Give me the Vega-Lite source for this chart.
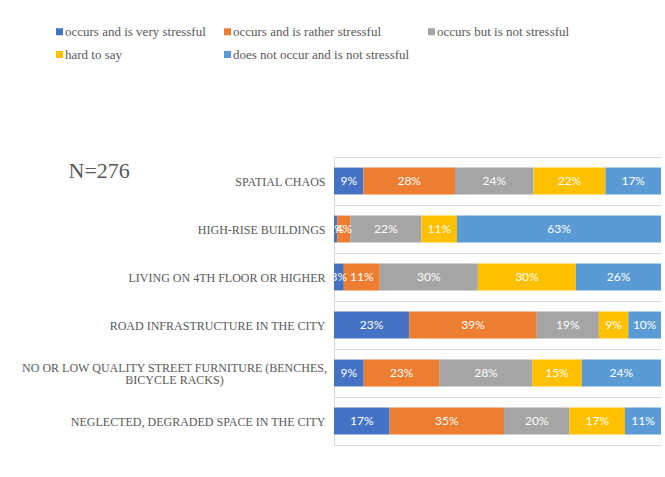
{
  "$schema": "https://vega.github.io/schema/vega-lite/v6.json",
  "width": 327,
  "height": 288,
  "autosize": {"type": "none"},
  "padding": {"left": 334, "top": 157, "right": 4, "bottom": 32},
  "background": "white",
  "data": {
    "values": [
      {"c": "SPATIAL CHAOS", "s": "occurs and is very stressful", "o": 1, "v": 0.09},
      {"c": "SPATIAL CHAOS", "s": "occurs and is rather stressful", "o": 2, "v": 0.28},
      {"c": "SPATIAL CHAOS", "s": "occurs but is not stressful", "o": 3, "v": 0.24},
      {"c": "SPATIAL CHAOS", "s": "hard to say", "o": 4, "v": 0.22},
      {"c": "SPATIAL CHAOS", "s": "does not occur and is not stressful", "o": 5, "v": 0.17},
      {"c": "HIGH-RISE BUILDINGS", "s": "occurs and is very stressful", "o": 1, "v": 0.01},
      {"c": "HIGH-RISE BUILDINGS", "s": "occurs and is rather stressful", "o": 2, "v": 0.04},
      {"c": "HIGH-RISE BUILDINGS", "s": "occurs but is not stressful", "o": 3, "v": 0.22},
      {"c": "HIGH-RISE BUILDINGS", "s": "hard to say", "o": 4, "v": 0.11},
      {"c": "HIGH-RISE BUILDINGS", "s": "does not occur and is not stressful", "o": 5, "v": 0.63},
      {"c": "LIVING ON 4TH FLOOR OR HIGHER", "s": "occurs and is very stressful", "o": 1, "v": 0.03},
      {"c": "LIVING ON 4TH FLOOR OR HIGHER", "s": "occurs and is rather stressful", "o": 2, "v": 0.11},
      {"c": "LIVING ON 4TH FLOOR OR HIGHER", "s": "occurs but is not stressful", "o": 3, "v": 0.30},
      {"c": "LIVING ON 4TH FLOOR OR HIGHER", "s": "hard to say", "o": 4, "v": 0.30},
      {"c": "LIVING ON 4TH FLOOR OR HIGHER", "s": "does not occur and is not stressful", "o": 5, "v": 0.26},
      {"c": "ROAD INFRASTRUCTURE IN THE CITY", "s": "occurs and is very stressful", "o": 1, "v": 0.23},
      {"c": "ROAD INFRASTRUCTURE IN THE CITY", "s": "occurs and is rather stressful", "o": 2, "v": 0.39},
      {"c": "ROAD INFRASTRUCTURE IN THE CITY", "s": "occurs but is not stressful", "o": 3, "v": 0.19},
      {"c": "ROAD INFRASTRUCTURE IN THE CITY", "s": "hard to say", "o": 4, "v": 0.09},
      {"c": "ROAD INFRASTRUCTURE IN THE CITY", "s": "does not occur and is not stressful", "o": 5, "v": 0.10},
      {"c": "NO OR LOW QUALITY STREET FURNITURE (BENCHES, BICYCLE RACKS)", "s": "occurs and is very stressful", "o": 1, "v": 0.09},
      {"c": "NO OR LOW QUALITY STREET FURNITURE (BENCHES, BICYCLE RACKS)", "s": "occurs and is rather stressful", "o": 2, "v": 0.23},
      {"c": "NO OR LOW QUALITY STREET FURNITURE (BENCHES, BICYCLE RACKS)", "s": "occurs but is not stressful", "o": 3, "v": 0.28},
      {"c": "NO OR LOW QUALITY STREET FURNITURE (BENCHES, BICYCLE RACKS)", "s": "hard to say", "o": 4, "v": 0.15},
      {"c": "NO OR LOW QUALITY STREET FURNITURE (BENCHES, BICYCLE RACKS)", "s": "does not occur and is not stressful", "o": 5, "v": 0.24},
      {"c": "NEGLECTED, DEGRADED SPACE IN THE CITY", "s": "occurs and is very stressful", "o": 1, "v": 0.17},
      {"c": "NEGLECTED, DEGRADED SPACE IN THE CITY", "s": "occurs and is rather stressful", "o": 2, "v": 0.35},
      {"c": "NEGLECTED, DEGRADED SPACE IN THE CITY", "s": "occurs but is not stressful", "o": 3, "v": 0.20},
      {"c": "NEGLECTED, DEGRADED SPACE IN THE CITY", "s": "hard to say", "o": 4, "v": 0.17},
      {"c": "NEGLECTED, DEGRADED SPACE IN THE CITY", "s": "does not occur and is not stressful", "o": 5, "v": 0.11}
    ]
  },
  "transform": [
    {"stack": "v", "groupby": ["c"], "sort": [{"field": "o", "order": "ascending"}], "offset": "normalize", "as": ["x0", "x1"]},
    {"calculate": "(datum.x0 + datum.x1) / 2", "as": "m"}
  ],
  "encoding": {
    "y": {
      "field": "c",
      "type": "nominal",
      "sort": ["SPATIAL CHAOS", "HIGH-RISE BUILDINGS", "LIVING ON 4TH FLOOR OR HIGHER", "ROAD INFRASTRUCTURE IN THE CITY", "NO OR LOW QUALITY STREET FURNITURE (BENCHES, BICYCLE RACKS)", "NEGLECTED, DEGRADED SPACE IN THE CITY"],
      "scale": {"paddingInner": 0, "paddingOuter": 0},
      "axis": {
        "title": "N=276",
        "titleAngle": 0,
        "titleX": -266,
        "titleY": 13,
        "titleAlign": "left",
        "titleBaseline": "middle",
        "titleFont": "Liberation Serif",
        "titleFontSize": 22,
        "titleFontWeight": "normal",
        "titleColor": "#595959",
        "labelFont": "Liberation Serif",
        "labelFontSize": 12,
        "labelColor": "#595959",
        "labelLimit": 400,
        "labelLineHeight": 12,
        "labelExpr": "datum.value == 'NO OR LOW QUALITY STREET FURNITURE (BENCHES, BICYCLE RACKS)' ? ['NO OR LOW QUALITY STREET FURNITURE (BENCHES,', 'BICYCLE RACKS)'] : datum.label",
        "labelAlign": {"condition": {"test": "datum.value == 'NO OR LOW QUALITY STREET FURNITURE (BENCHES, BICYCLE RACKS)'", "value": "center"}, "value": "right"},
        "labelPadding": {"condition": {"test": "datum.value == 'NO OR LOW QUALITY STREET FURNITURE (BENCHES, BICYCLE RACKS)'", "value": 160}, "value": 9},
        "labelOffset": {"condition": {"test": "datum.value == 'NO OR LOW QUALITY STREET FURNITURE (BENCHES, BICYCLE RACKS)'", "value": -6}, "value": 0},
        "ticks": true,
        "tickSize": 0,
        "domain": true,
        "domainColor": "#D9D9D9",
        "grid": true,
        "gridColor": "#D9D9D9",
        "tickBand": "extent"
      }
    }
  },
  "layer": [
    {
      "mark": {"type": "bar", "height": {"band": 0.56}},
      "encoding": {
        "x": {"field": "x0", "type": "quantitative", "scale": {"domain": [0, 1], "nice": false}, "axis": null},
        "x2": {"field": "x1"},
        "color": {
          "field": "s",
          "type": "nominal",
          "sort": ["occurs and is very stressful", "occurs and is rather stressful", "occurs but is not stressful", "hard to say", "does not occur and is not stressful"],
          "scale": {
            "domain": ["occurs and is very stressful", "occurs and is rather stressful", "occurs but is not stressful", "hard to say", "does not occur and is not stressful"],
            "range": ["#4472C4", "#ED7D31", "#A5A5A5", "#FFC000", "#5B9BD5"]
          },
          "legend": {
            "orient": "none",
            "direction": "horizontal",
            "legendX": -281,
            "legendY": -132,
            "columns": 3,
            "gridAlign": "each",
            "columnPadding": 15,
            "rowPadding": 9,
            "symbolType": "square",
            "symbolSize": 49,
            "symbolStrokeWidth": 0,
            "labelFont": "Liberation Serif",
            "labelFontSize": 13,
            "labelColor": "#595959",
            "labelOffset": -1,
            "labelLimit": 300,
            "title": null
          }
        }
      }
    },
    {
      "mark": {"type": "text", "color": "white", "font": "Lato", "fontSize": 12},
      "encoding": {
        "x": {"field": "m", "type": "quantitative"},
        "text": {"field": "v", "type": "quantitative", "format": ".0%"}
      }
    }
  ],
  "config": {"view": {"stroke": null}}
}
